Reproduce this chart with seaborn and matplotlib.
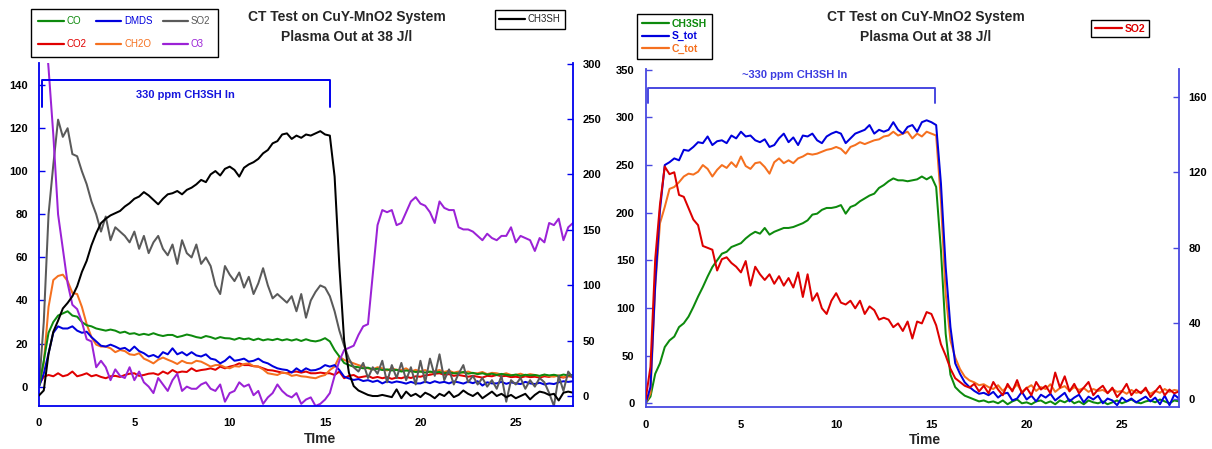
import numpy as np
import matplotlib
matplotlib.use("Agg")
import matplotlib.pyplot as plt
import seaborn as sns
from matplotlib.lines import Line2D

# ---------------- data ----------------
time = np.arange(0, 28.01, 0.25)

# left panel (left axis)
co = [0, 12, 25, 30, 33, 34, 35, 33,
      32.5, 30, 28.5, 28, 27, 26.5, 26, 26.5,
      26, 25, 25.5, 24.5, 24.8, 24, 24.5, 24,
      24.8, 24, 23.5, 24, 24, 23, 23.5, 24.2,
      23.7, 23, 22.6, 23.5, 23, 22.2, 23, 22.5,
      22.4, 21.8, 22.6, 22, 22.4, 21.6, 22.3, 21.5,
      22, 21.6, 22.2, 21.5, 22, 21.4, 22, 21.2,
      22, 21.3, 21, 21.5, 22.5, 21, 17, 14,
      11, 10, 9.3, 9, 8.5, 8.8, 8, 8.3,
      7.7, 8, 7.5, 7.8, 7, 7.5, 7.2, 6.8,
      7, 6.5, 7, 6.6, 6.8, 6.2, 6.6, 6.2,
      6.2, 6.8, 6, 6.4, 5.8, 6.2, 5.6, 6,
      5.4, 5.9, 5.5, 5.2, 5.6, 5, 5.5, 5.2,
      5.4, 5, 5.6, 5.2, 5.5, 5.0, 5.6, 5.2,
      5.4]
dmds = [0, 6, 15.5, 25, 28, 27, 27, 28,
        26, 25, 25.5, 23, 21, 19, 18.6, 19.5,
        18.6, 17.5, 18, 16.5, 18.6, 16.5, 15.5, 14,
        14.7, 13.5, 16, 15, 17.8, 15, 16, 14.5,
        16, 14.5, 14, 15, 13, 12.5, 10.8, 12,
        14, 12, 12.4, 13, 11.6, 12, 13, 11.5,
        10.8, 9.5, 8.5, 8, 7.7, 6.5, 8.5, 7,
        8.5, 7.5, 7.7, 8.5, 10, 9.3, 10, 7.7,
        4.6, 3.8, 3.1, 3.5, 2.6, 3, 2.2, 2.8,
        1.5, 2.5, 1.8, 2.4, 2, 1.4, 2.2, 1.5,
        1.5, 2.3, 1.6, 2.5, 1.8, 2.2, 1.5, 2.4,
        2, 1.4, 2.3, 1.6, 2.5, 0.5, 2, 1.5,
        1.5, 2.2, 1.3, 2, 1.5, 1.2, 2.2, 1.5,
        1.2, 1.8, 1, 1.5, 1.2, 2, 2.5, 2.2,
        2.5]
so2_l = [0, 30, 80, 103, 124, 116, 120, 108,
         107, 100, 94, 86, 80, 72, 79, 68,
         74, 72, 70, 67, 72, 64, 70, 62,
         67, 70, 64, 61, 66, 57, 68, 62,
         60, 66, 57, 60, 56, 47, 43, 56,
         52, 49, 53, 46, 51, 43, 48, 55,
         47, 41, 43, 41, 39, 42, 35, 43,
         32, 40, 44, 47, 46, 42, 35, 26,
         19, 13, 9, 7, 11, 4, 9, 6,
         12, 2, 10, 4, 11, 3, 9, 1,
         12, 2, 13, 5, 15, 3, 8, 1,
         6, 10, 2, 5, 1, 4, 0, 3,
         -1, 5, -7, 3, 1, 4, -1, 3,
         0, 4, 2, -3, -9, 5, -2, 7,
         4]
co2 = [1, 4.6, 5.4, 4.8, 6.2, 4.8, 5.4, 7,
       4.8, 5.4, 6.2, 4.8, 5.4, 4.5, 3.9, 4.8,
       5, 4.5, 5.4, 6, 6.2, 5, 5.4, 6,
       6.2, 5.5, 7, 6, 7.7, 6.5, 7, 6.8,
       8.5, 7.2, 7.7, 8, 8.5, 7.8, 9.3, 8.5,
       9.3, 9.8, 10.8, 10, 10, 9.5, 9.3, 8.5,
       7.7, 7.5, 7, 6.5, 6.2, 6.8, 7, 6.5,
       7, 6.2, 6.2, 6.5, 6.2, 6.2, 5.4, 7,
       3.9, 5, 5.4, 4.2, 4.6, 5, 4, 4.5,
       3.9, 4.4, 3.6, 4.2, 3.9, 4.6, 4, 4.8,
       4.6, 5.2, 5.5, 6, 6.2, 5.5, 5.8, 5,
       5.4, 5, 4.6, 5, 4.6, 4.2, 5, 4.8,
       5.4, 4.8, 5, 4.4, 4.6, 4.2, 4.8, 4.4,
       4.6, 4.2, 4.8, 4.5, 5.4, 4.6, 4.2, 4.8,
       4.6]
ch2o = [0, 11, 37, 49.5, 51.4, 52, 49, 43.5,
        43, 37, 29, 23, 19.5, 18.6, 18.6, 17.8,
        16, 17, 16.5, 15, 14.7, 15.5, 13, 12,
        10.8, 12.5, 13.5, 12.5, 11.6, 10.5, 12, 11,
        10.8, 12, 11.6, 10.5, 9.3, 10, 10, 9,
        8.5, 9.5, 9.3, 10.5, 10.8, 9.5, 9.3, 8,
        6.2, 5.8, 5.4, 6.5, 6.2, 5, 5.4, 4.8,
        4.6, 4.2, 3.9, 4.8, 5.4, 7.7, 9.3, 14,
        12.4, 11.6, 10.8, 10, 9.3, 8.5, 8, 9,
        8.5, 7.5, 8.5, 7.8, 7.7, 8.5, 7, 7.8,
        7, 7.7, 6.5, 7.2, 7.7, 6.8, 7.4, 6.5,
        7, 6.4, 7, 6.2, 6.2, 6.8, 5.8, 6.4,
        6.2, 5.6, 6.2, 5.4, 5.4, 6, 5.2, 5.8,
        5.4, 4.8, 5.5, 4.8, 4.6, 5.2, 4.4, 5,
        5.4]
o3 = [195, 175, 148, 117, 80, 64, 48, 38,
      36, 30, 22, 21, 9, 12, 9, 3,
      8, 5, 4, 9, 3, 7, 2, 0,
      -3, 4, 1, -2, 3, 6, -2, 0,
      -1, -1, 1, 2, -1, -2, 1, -7,
      -3, -2, 2, 0, 1, -4, -2, -8,
      -5, -3, 1, -2, -4, -5, -3, -8,
      -6, -5, -9, -8, -6, -3, 5, 12,
      17, 18, 19, 24, 28, 29, 52, 75,
      82, 81, 82, 75, 76, 81, 86, 88,
      85, 84, 81, 76, 86, 83, 82, 82,
      74, 73, 73, 72, 70, 68, 71, 69,
      68, 70, 70, 74, 67, 70, 69, 68,
      63, 69, 67, 76, 75, 78, 68, 74,
      76]
# left panel (right axis)
ch3sh_l = [0.5, 5, 38, 58, 68, 79, 84, 90,
           99, 112, 122, 136, 147, 156, 160, 163,
           165, 167, 171, 174, 178, 180, 184, 181,
           177, 173, 178, 182, 183, 185, 182, 186,
           188, 191, 195, 193, 200, 203, 199, 205,
           207, 204, 198, 206, 209, 211, 214, 219,
           222, 228, 230, 236, 237, 232, 235, 233,
           236, 235, 237, 239, 236, 235, 198, 117,
           50, 21, 9, 5, 3, 1, 0, 0,
           1, 0, -1, 6, -2, 4, 0, 2,
           -1, 3, 1, -2, 2, 0, 4, -1,
           1, 5, 2, 0, 3, -2, 1, 4,
           0, 2, -1, 1, -2, 0, 2, -3,
           1, 4, 3, 1, 2, -4, 3, 4,
           3]

# right panel (left axis)
ch3sh_r = [0, 7, 31, 42, 59, 66, 70, 80,
           84, 91, 101, 112, 122, 133, 143, 150,
           157, 159, 164, 166, 168, 173, 177, 180,
           178, 184, 177, 180, 182, 184, 184, 185,
           187, 189, 192, 198, 199, 203, 205, 205,
           206, 208, 199, 206, 208, 212, 215, 218,
           220, 226, 229, 233, 236, 234, 234, 233,
           234, 235, 238, 235, 238, 227, 161, 73,
           30, 17, 12, 8, 6, 4, 2, 3,
           1, 2, 0, 3, -1, 2, 4, 0,
           1, -1, 2, 3, 0, 2, -1, 3,
           1, 4, 0, 2, -1, 3, 1, 0,
           2, -1, 1, 3, 0, 2, 4, 1,
           0, 2, 3, 1, 4, 2, 0, 3,
           2]
s_tot = [0, 17, 125, 203, 250, 253, 257, 255,
         266, 265, 269, 274, 273, 280, 271, 275,
         276, 273, 281, 278, 285, 280, 281, 276,
         274, 277, 269, 271, 278, 283, 274, 279,
         271, 281, 280, 283, 276, 273, 280, 283,
         285, 283, 273, 278, 283, 285, 287, 292,
         283, 287, 285, 287, 295, 287, 283, 290,
         292, 285, 295, 297, 295, 292, 231, 143,
         80, 42, 31, 22, 17, 13, 10, 11,
         8.5, 12, 6, 10, 11, 3, 5, 12,
         4, 8, 2, 9, 6, 10, 3, 7,
         11, 2, 6, 9, 1, 7, 4, 8,
         0, 5, 3, -2, 6, 2, 5, 1,
         4, 7, 2, 6, -1, 8, -2, 9,
         5]
c_tot = [0, 10.5, 122, 189, 206, 225, 227, 232,
         238, 241, 240, 243, 250, 246, 238, 245,
         250, 247, 253, 248, 259, 249, 246, 252,
         253, 248, 241, 253, 257, 252, 255, 252,
         257, 259, 262, 261, 262, 264, 266, 267,
         269, 267, 262, 269, 271, 274, 272, 274,
         276, 277, 280, 281, 285, 281, 283, 285,
         278, 283, 280, 285, 283, 281, 213, 115,
         66, 48, 36, 28, 24, 22, 19, 20,
         17, 15, 19, 13, 18, 14, 20, 12,
         16, 19, 13, 17, 15, 20, 12, 16,
         18, 13, 17, 14, 16, 12, 15, 13,
         14, 11, 15, 12, 13, 10, 14, 11,
         12, 14, 10, 13, 11, 15, 12, 14,
         13]
# right panel (right axis)
so2_r = [0, 17, 74, 103, 123, 119, 120, 108,
         107, 101, 95, 92, 81, 80, 79, 68,
         74, 75, 72, 70, 67, 73, 60, 70,
         66, 63, 66, 61, 65, 60, 64, 59,
         67, 54, 66, 52, 56, 48, 45, 52,
         56, 51, 50, 52, 48, 52, 45, 49,
         47, 42, 43, 42, 38, 40, 36, 41,
         32, 41, 40, 46, 45, 39, 29, 23,
         16, 11, 9, 7, 6, 8, 4, 7,
         3, 9, 5, 2, 8, 4, 10, 3,
         6, 2, 9, 5, 7, 3, 14, 6,
         12, 4, 8, 3, 6, 9, 2, 5,
         7, 3, 6, 1, 4, 8, 2, 5,
         3, 6, 1, 4, 7, 2, 5, 3,
         4]

left_labels = ["CO", "DMDS", "SO2", "CO2", "CH2O", "O3"]
right_labels = ["CH3SH", "S_tot", "C_tot"]
title1 = "CT Test on CuY-MnO2 System"
title2 = "Plasma Out at 38 J/l"
note_left = "330 ppm CH3SH In"
note_right = "~330 ppm CH3SH In"

# ---------------- style ----------------
sns.set_style("white")
plt.rcParams['font.family'] = ['Liberation Sans', 'DejaVu Sans']
plt.rcParams['font.weight'] = 'bold'

C_GREEN = "#0d8a0d"
C_BLUE = "#0000dd"
C_GREY = "#5a5a5a"
C_RED = "#e00000"
C_ORANGE = "#f5701f"
C_PURPLE = "#9b22d6"
SP1 = "#0000ee"
SP2 = "#4848e0"
LW = 1.45

fig = plt.figure(figsize=(12.12, 4.49), dpi=100)
W, H = 1212, 449
ax1 = fig.add_axes([39 / W, 1 - 406 / H, 534 / W, 343 / H])
ax1r = ax1.twinx()
ax2 = fig.add_axes([645.7 / W, 1 - 407.3 / H, 533.3 / W, 338 / H])
ax2r = ax2.twinx()

def line(ax, y, c):
    sns.lineplot(x=time, y=y, ax=ax, color=c, lw=LW, estimator=None, legend=False)

# left panel
line(ax1, co2, C_RED)
line(ax1, ch2o, C_ORANGE)
line(ax1, dmds, C_BLUE)
line(ax1, co, C_GREEN)
line(ax1, so2_l, C_GREY)
line(ax1, o3, C_PURPLE)
line(ax1r, ch3sh_l, "black")

# right panel
line(ax2, ch3sh_r, C_GREEN)
line(ax2, c_tot, C_ORANGE)
line(ax2, s_tot, C_BLUE)
line(ax2r, so2_r, "#dd0000")

# limits / ticks
for a in (ax1, ax2):
    a.set_xlim(0, 28)
    a.set_xticks(range(0, 26, 5))
ax1.set_ylim(-9, 150.3)
ax1r.set_ylim(-9, 300.5)
ax1.set_yticks(range(0, 141, 20))
ax1r.set_yticks(range(0, 301, 50))
ax2.set_ylim(-4.2, 350.5)
ax2r.set_ylim(-4.4, 174.5)
ax2.set_yticks(range(0, 351, 50))
ax2r.set_yticks([0, 40, 80, 120, 160])

for a, ar, col in ((ax1, ax1r, SP1), (ax2, ax2r, SP2)):
    a.set_ylabel("")
    ar.set_ylabel("")
    for s in ("top", "right"):
        a.spines[s].set_visible(False)
    for s in ("left", "bottom"):
        a.spines[s].set_color(col)
        a.spines[s].set_linewidth(1.3)
    for s in ("top", "left", "bottom"):
        ar.spines[s].set_visible(False)
    ar.spines["right"].set_color(col)
    ar.spines["right"].set_linewidth(1.3)
    a.tick_params(axis="both", direction="in", length=4, width=1, color=col,
                  labelsize=8, labelcolor="black")
    a.tick_params(axis="x", pad=9)
    a.tick_params(axis="y", pad=8)
    ar.tick_params(axis="y", direction="in", length=4, width=1, color=col,
                   labelsize=8, labelcolor="black", pad=7)
    a.grid(False)
    ar.grid(False)

ax1.set_xlabel("TIme", fontsize=10, fontweight="bold")
ax1.xaxis.set_label_coords(0.526, -0.075)
ax2.set_xlabel("Time", fontsize=10, fontweight="bold")
ax2.xaxis.set_label_coords(0.524, -0.075)

# bracket annotations
ax1.plot([0.16, 0.16, 15.26, 15.26], [129.9, 142.4, 142.4, 129.9],
         color=SP1, lw=1.4, clip_on=False)
ax1.text(7.67, 135.5, note_left, ha="center", va="center", color="#1515dd",
         fontsize=8, fontweight="bold")
ax2.plot([0.12, 0.12, 15.2, 15.2], [315, 330.5, 330.5, 315],
         color=SP2, lw=1.4, clip_on=False)
ax2.text(7.84, 344.8, note_right, ha="center", va="center", color="#3c3ce0",
         fontsize=8, fontweight="bold")

# titles
for xc in (347, 926):
    fig.text(xc / W, 1 - 17 / H, title1, ha="center", va="center", fontsize=10, fontweight="bold")
    fig.text(xc / W, 1 - 37 / H, title2, ha="center", va="center", fontsize=10, fontweight="bold")

# legends
def mk(c):
    return Line2D([0], [0], color=c, lw=1.6)

lcols = [C_GREEN, C_BLUE, C_GREY, C_RED, C_ORANGE, C_PURPLE]
order = [0, 3, 1, 4, 2, 5]
h1 = [mk(lcols[i]) for i in order]
l1 = [left_labels[i] for i in order]
legkw = dict(frameon=True, fancybox=False, framealpha=1, edgecolor="black",
             borderaxespad=0)
leg1 = fig.legend(h1, l1, loc="upper left", bbox_to_anchor=(31 / W, 1 - 9 / H), ncol=3,
                  prop={"size": 7, "weight": "normal"}, handlelength=2.6, handletextpad=0.3,
                  columnspacing=1.0, labelspacing=1.35, borderpad=0.75, **legkw)
for t, h in zip(leg1.get_texts(), h1):
    t.set_color(h.get_color())

h2 = [mk("black")]
leg2 = fig.legend(h2, ["CH3SH"], loc="upper left", bbox_to_anchor=(495 / W, 1 - 10 / H),
                  prop={"size": 7, "weight": "normal"}, handlelength=2.6, handletextpad=0.3,
                  borderpad=0.45, **legkw)

rcols = [C_GREEN, C_BLUE, C_ORANGE]
h3 = [mk(c) for c in rcols]
leg3 = fig.legend(h3, right_labels, loc="upper left", bbox_to_anchor=(637 / W, 1 - 14 / H),
                  prop={"size": 7.5, "weight": "bold"}, handlelength=2.6, handletextpad=0.3,
                  labelspacing=0.25, borderpad=0.45, **legkw)
for t, h in zip(leg3.get_texts(), h3):
    t.set_color(h.get_color())

h4 = [mk("#dd0000")]
leg4 = fig.legend(h4, ["SO2"], loc="upper left", bbox_to_anchor=(1091 / W, 1 - 20 / H),
                  prop={"size": 7.5, "weight": "bold"}, handlelength=2.6, handletextpad=0.3,
                  borderpad=0.35, **legkw)
leg4.get_texts()[0].set_color("#dd0000")

for lg in (leg1, leg2, leg3, leg4):
    lg.get_frame().set_linewidth(1.0)

fig.savefig("out.png", dpi=100)
